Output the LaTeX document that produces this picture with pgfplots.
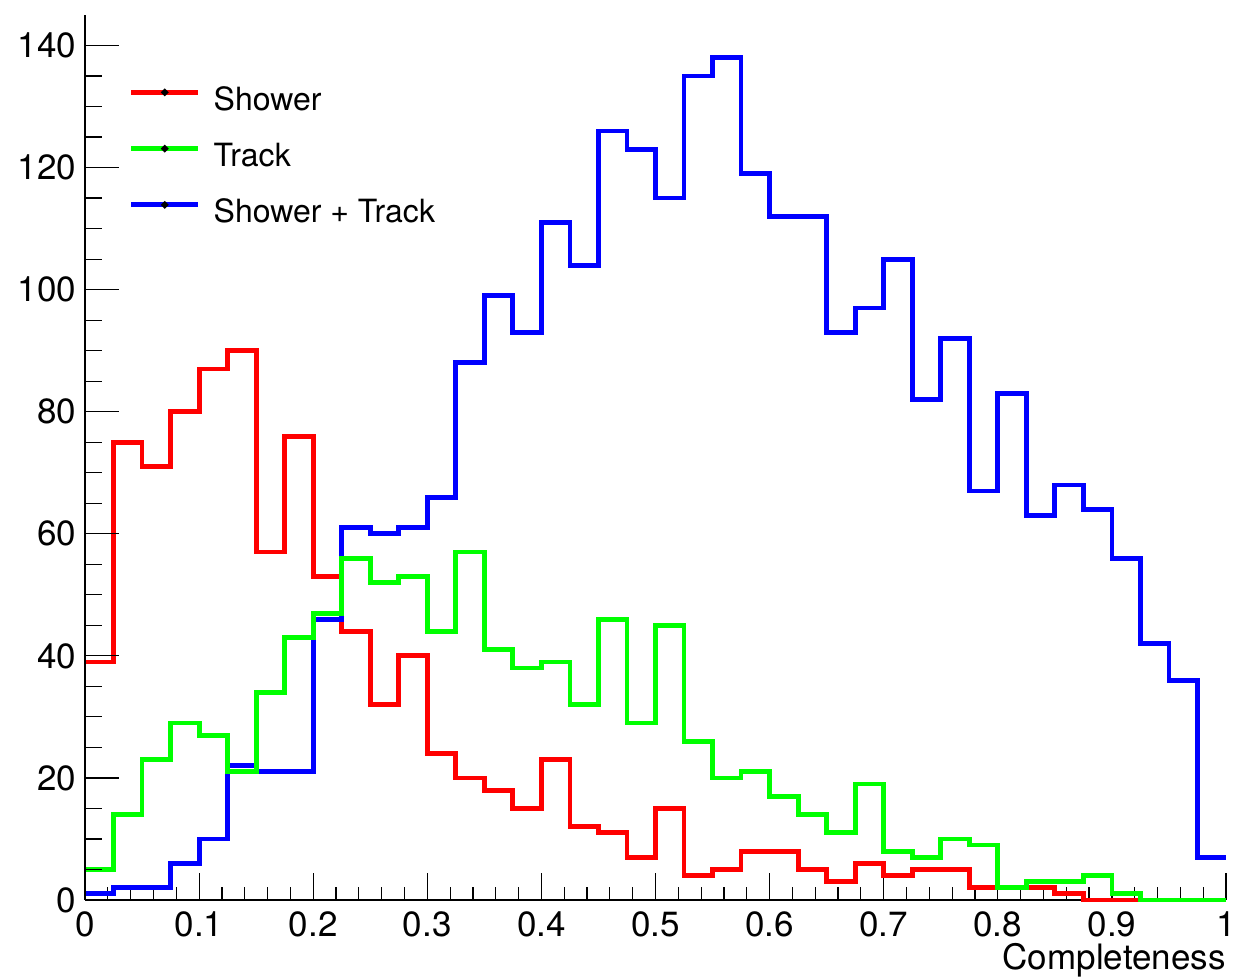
\documentclass[border=0pt]{standalone}
\usepackage{pgfplots}
\usepackage{pgfplotstable}
\pgfplotsset{compat=1.18}
\usepackage{fontspec}
\setmainfont{TeX Gyre Heros}

\pgfplotstableread{
x      sh  tr  bo
0.000  39   5   1
0.025  75  14   2
0.050  71  23   2
0.075  80  29   6
0.100  87  27  10
0.125  90  21  22
0.150  57  34  21
0.175  76  43  21
0.200  53  47  46
0.225  44  56  61
0.250  32  52  60
0.275  40  53  61
0.300  24  44  66
0.325  20  57  88
0.350  18  41  99
0.375  15  38  93
0.400  23  39 111
0.425  12  32 104
0.450  11  46 126
0.475   7  29 123
0.500  15  45 115
0.525   4  26 135
0.550   5  20 138
0.575   8  21 119
0.600   8  17 112
0.625   5  14 112
0.650   3  11  93
0.675   6  19  97
0.700   4   8 105
0.725   5   7  82
0.750   5  10  92
0.775   2   9  67
0.800   2   2  83
0.825   2   3  63
0.850   1   3  68
0.875   0   4  64
0.900   0   1  56
0.925   0   0  42
0.950   0   0  36
0.975   0   0   7
1.000   0   0   7
}\histdata

\definecolor{rootred}{RGB}{255,0,0}
\definecolor{rootgreen}{RGB}{0,255,0}
\definecolor{rootblue}{RGB}{0,0,255}

\begin{document}
\begin{tikzpicture}
\pgfplotsset{
  common/.style={
    scale only axis, width=570.5pt, height=442.5pt,
    xmin=0, xmax=1, ymin=0, ymax=145,
    font=\fontsize{17.5}{21}\selectfont,
    /pgf/number format/assume math mode=true,
    tick align=inside,
    tick style={black, line width=0.6pt},
    axis line style={-, black, line width=0.8pt},
  }
}
\begin{axis}[common,
  hide y axis,
  axis x line*=bottom,
  clip=false,
  axis on top=false,
  xtick={0,0.1,0.2,0.3,0.4,0.5,0.6,0.7,0.8,0.9,1},
  xticklabels={0,0.1,0.2,0.3,0.4,0.5,0.6,0.7,0.8,0.9,1},
  minor x tick num=4,
  major tick length=13.3pt, minor tick length=6.6pt,
  xlabel={Completeness},
  xlabel style={at={(rel axis cs:1,0)}, anchor=north east, inner sep=0pt, yshift=-21.5pt},
  xticklabel style={yshift=-2.5pt},
  legend style={draw=none, fill=none, inner sep=0pt, row sep=14.8pt, column sep=6.5pt,
    at={(axis cs:0.0381,133.4)}, anchor=north west,
    font=\fontsize{16}{19}\selectfont,
    nodes={inner sep=0pt, anchor=west}},
  legend cell align=left,
  legend image code/.code={\draw[#1] (0pt,0.36em) -- (33.5pt,0.36em);
    \fill[black] (16.75pt,0.36em) circle (0.3pt);},
]
\addlegendimage{rootred, line width=2.4pt}
\addlegendentry{Shower}
\addlegendimage{rootgreen, line width=2.4pt}
\addlegendentry{Track}
\addlegendimage{rootblue, line width=2.4pt}
\addlegendentry{Shower + Track}

\addplot[const plot, rootred, line width=2.4pt, forget plot] table[x=x, y=sh]{\histdata};
\addplot[const plot, rootblue, line width=2.4pt, forget plot] table[x=x, y=bo]{\histdata};
\addplot[const plot, rootgreen, line width=2.4pt, forget plot] table[x=x, y=tr]{\histdata};
\end{axis}

\begin{axis}[common,
  hide x axis,
  axis y line*=left,
  ytick={0,20,40,60,80,100,120,140},
  minor y tick num=3,
  major tick length=17pt, minor tick length=8.5pt,
  yticklabel style={xshift=-1pt},
]
\end{axis}

\pgfresetboundingbox
\path[use as bounding box] (-42.5pt,-39pt) rectangle (575pt,450pt);
\end{tikzpicture}
\end{document}
